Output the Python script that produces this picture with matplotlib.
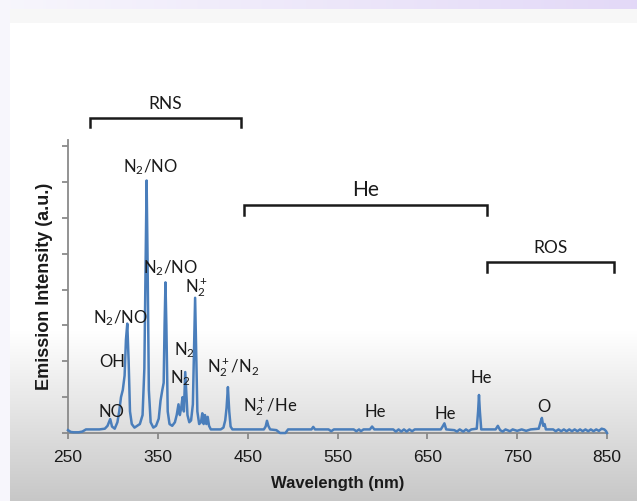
import matplotlib
matplotlib.use("Agg")
import matplotlib.pyplot as plt
import numpy as np

# spectrum (wavelength in nm, intensity in tick units)
wavelength = [250, 253, 256, 262, 266, 270, 285, 291, 294, 297, 299, 302, 305, 307, 309, 311,
              313, 314.5, 316, 317.5, 319, 321, 324, 327, 330, 333, 335, 336.5, 337.5, 338.5,
              340, 342, 345, 348, 351, 353, 355, 356.5, 357.5, 358.5, 359.5, 361, 363, 366,
              369, 371, 373, 374.5, 376, 377.5, 379, 380.5, 381.5, 383, 385, 387, 389, 390.5,
              391.5, 392.5, 394, 396, 398, 399.5, 401, 402.5, 404, 405.5, 407, 409, 420, 423,
              425, 426.5, 428, 429.5, 431, 433, 468, 470, 471.5, 473, 475, 482, 486, 492, 495,
              521, 523, 525, 540, 543, 546, 568, 571, 574, 576, 579, 586, 588.5, 591, 612, 615,
              618, 621, 624, 627, 630, 633, 636, 665, 667, 669, 671, 680, 683, 686, 690, 693,
              696, 699, 705, 706.5, 707.5, 708.5, 710, 726, 728.5, 731, 734, 737, 742, 745,
              750, 755, 760, 765, 774, 776, 777.5, 779, 780.5, 782, 790, 793, 796, 799, 802,
              805, 808, 811, 814, 817, 820, 823, 826, 829, 832, 835, 838, 841, 844, 847, 849, 850]
intensity = [0.08, 0.03, 0.02, 0.02, 0.04, 0.1, 0.1, 0.12, 0.2, 0.39, 0.18, 0.12, 0.3, 0.6, 1.0, 1.2,
             1.6, 2.6, 3.05, 2.0, 0.6, 0.25, 0.15, 0.2, 0.25, 0.5, 1.8, 5.0, 7.04, 5.0,
             1.2, 0.3, 0.15, 0.2, 0.4, 0.9, 1.2, 1.4, 3.0, 4.2, 3.0, 0.6, 0.25, 0.2,
             0.3, 0.5, 0.8, 0.5, 0.7, 1.0, 0.6, 1.7, 1.2, 0.5, 0.3, 0.35, 0.8, 2.5,
             3.77, 2.5, 0.6, 0.25, 0.3, 0.55, 0.25, 0.5, 0.25, 0.45, 0.2, 0.1, 0.1, 0.15,
             0.35, 0.7, 1.28, 0.6, 0.18, 0.1, 0.1, 0.18, 0.34, 0.2, 0.1, 0.08, 0.0, 0.0, 0.1,
             0.1, 0.17, 0.1, 0.1, 0.05, 0.1, 0.1, 0.05, 0.1, 0.05, 0.1, 0.1, 0.18, 0.1, 0.1, 0.04,
             0.1, 0.04, 0.1, 0.04, 0.1, 0.05, 0.1, 0.1, 0.18, 0.27, 0.1, 0.08, 0.04, 0.1, 0.04, 0.1,
             0.05, 0.1, 0.12, 0.6, 1.06, 0.6, 0.1, 0.1, 0.2, 0.08, 0.04, 0.1, 0.05, 0.1,
             0.06, 0.1, 0.06, 0.1, 0.12, 0.3, 0.42, 0.2, 0.25, 0.1, 0.1, 0.05, 0.1, 0.05, 0.1,
             0.05, 0.1, 0.05, 0.1, 0.05, 0.1, 0.05, 0.1, 0.05, 0.1, 0.05, 0.1, 0.06, 0.12, 0.1, 0.05, 0.0]

# peak labels: text, x (nm), baseline y
peak_labels = [r"N$_2$/NO", r"N$_2$/NO", r"N$_2^+$", r"N$_2$/NO", "OH", r"N$_2$", r"N$_2$", "NO",
               r"N$_2^+$/N$_2$", r"N$_2^+$/He", "He", "He", "He", "O"]
label_x = [341.3, 363.5, 393.0, 308.4, 299.0, 380.2, 374.7, 297.9, 433.7, 475.4, 592.3, 670.2, 710.3, 779.9]
label_y = [7.28, 4.46, 3.91, 3.07, 1.84, 2.18, 1.39, 0.45, 1.70, 0.59, 0.45, 0.39, 1.39, 0.59]

# region brackets: name, start, end, height
regions = ["RNS", "He", "ROS"]
region_start = [274.5, 445.9, 716.4]
region_end = [442.6, 716.4, 857.8]
region_y = [8.79, 6.36, 4.77]
region_size = [12.5, 15, 12.5]

label_font = ["Lato", "DejaVu Sans"]
plt.rcParams["mathtext.fontset"] = "custom"
plt.rcParams["mathtext.rm"] = "Lato"
plt.rcParams["mathtext.it"] = "Lato"

W, H = 637, 501
fig = plt.figure(figsize=(W / 100, H / 100), dpi=100)

# slide background
bg = fig.add_axes([0, 0, 1, 1], zorder=-10)
img = np.ones((H, W, 3))
rows = np.arange(H)
shade = np.clip((rows - 330) / (H - 330), 0, 1)
for c in range(3):
    img[:, :, c] = (1 - 0.22 * shade)[:, None]
top_mix = np.linspace(0, 1, W)
lav = np.array([0.89, 0.85, 0.97])
white_lav = np.array([0.97, 0.965, 0.99])
for c in range(3):
    img[:9, :, c] = white_lav[c] * (1 - top_mix) + lav[c] * top_mix
img[9:23, :, :] = 0.97
img[:, :10, :] = white_lav
bg.imshow(img, aspect="auto", interpolation="bilinear")
bg.axis("off")

ax = fig.add_axes([68 / W, 1 - 433 / H, (607 - 68) / W, (433 - 140) / H])
ax.patch.set_alpha(0)
ax.plot(wavelength, intensity, color="#4a7ebb", lw=1.8, clip_on=False, zorder=3)

ax.set_xlim(250, 850)
ax.set_ylim(0, 8.17)
ax.set_xticks(range(250, 851, 100))
ax.set_yticks(range(0, 9))
ax.set_yticklabels([])
for s in ["top", "right"]:
    ax.spines[s].set_visible(False)
for s in ["left", "bottom"]:
    ax.spines[s].set_color("#8a8a8a")
    ax.spines[s].set_linewidth(1.3)
ax.tick_params(direction="out", length=4, width=1.3, color="#8a8a8a")
ax.tick_params(axis="x", labelsize=12.5, pad=8, labelcolor="#1a1a1a")
for t in ax.get_xticklabels():
    t.set_family(["Liberation Sans", "DejaVu Sans"])

ax.set_xlabel("Wavelength (nm)", fontsize=12, fontweight="bold", family=["Liberation Sans", "DejaVu Sans"],
              labelpad=8, color="#1a1a1a")
ax.set_ylabel("Emission Intensity (a.u.)", fontsize=13, fontweight="bold",
              family=["Liberation Sans", "DejaVu Sans"], labelpad=3, color="#1a1a1a")

for txt, x, y in zip(peak_labels, label_x, label_y):
    ax.text(x, y, txt, ha="center", va="baseline", fontsize=12, family=label_font, color="#1a1a1a")

for name, x0, x1, y, fs in zip(regions, region_start, region_end, region_y, region_size):
    ax.plot([x0, x0, x1, x1], [y - 0.27, y, y, y - 0.27], color="#1a1a1a", lw=1.8,
            clip_on=False, solid_joinstyle="miter")
    ax.text((x0 + x1) / 2, y + 0.25, name, ha="center", va="baseline", fontsize=fs,
            family=label_font, color="#1a1a1a", clip_on=False)

fig.savefig("out.png", dpi=100)
